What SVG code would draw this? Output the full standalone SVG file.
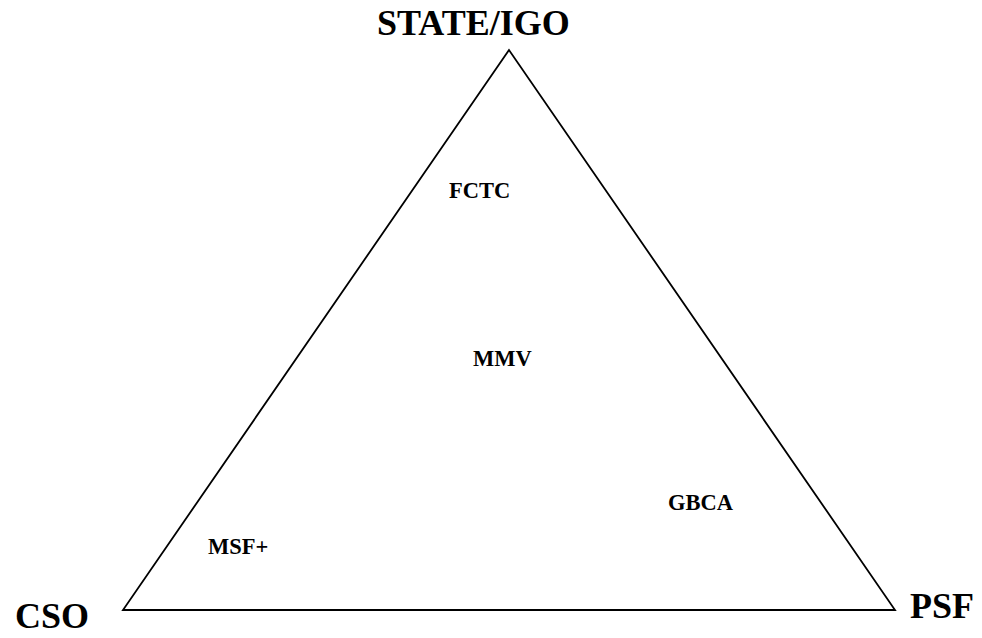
<svg xmlns="http://www.w3.org/2000/svg" width="982" height="638" viewBox="0 0 982 638">
<style>
.corner{font-family:"Liberation Serif","Times New Roman",serif;font-weight:bold;font-size:36px;fill:#000}
.item{font-family:"Liberation Serif","Times New Roman",serif;font-weight:bold;font-size:22.5px;fill:#000}
.edge{stroke:#000;stroke-width:1.8;fill:none}
</style>
<rect width="982" height="638" fill="#fff"/>
<g id="connectors">
<path class="edge" d="M509 50 L123 610 L895 610 Z" stroke-linejoin="miter"/>
</g>
<g id="state-igo"><text class="corner" x="377" y="35">STATE/IGO</text></g>
<g id="cso"><text class="corner" x="15" y="628">CSO</text></g>
<g id="psf"><text class="corner" x="910" y="618">PSF</text></g>
<g id="fctc"><text class="item" x="449" y="198">FCTC</text></g>
<g id="mmv"><text class="item" x="473" y="366">MMV</text></g>
<g id="gbca"><text class="item" x="668" y="510">GBCA</text></g>
<g id="msf"><text class="item" x="208" y="554">MSF+</text></g>
</svg>
